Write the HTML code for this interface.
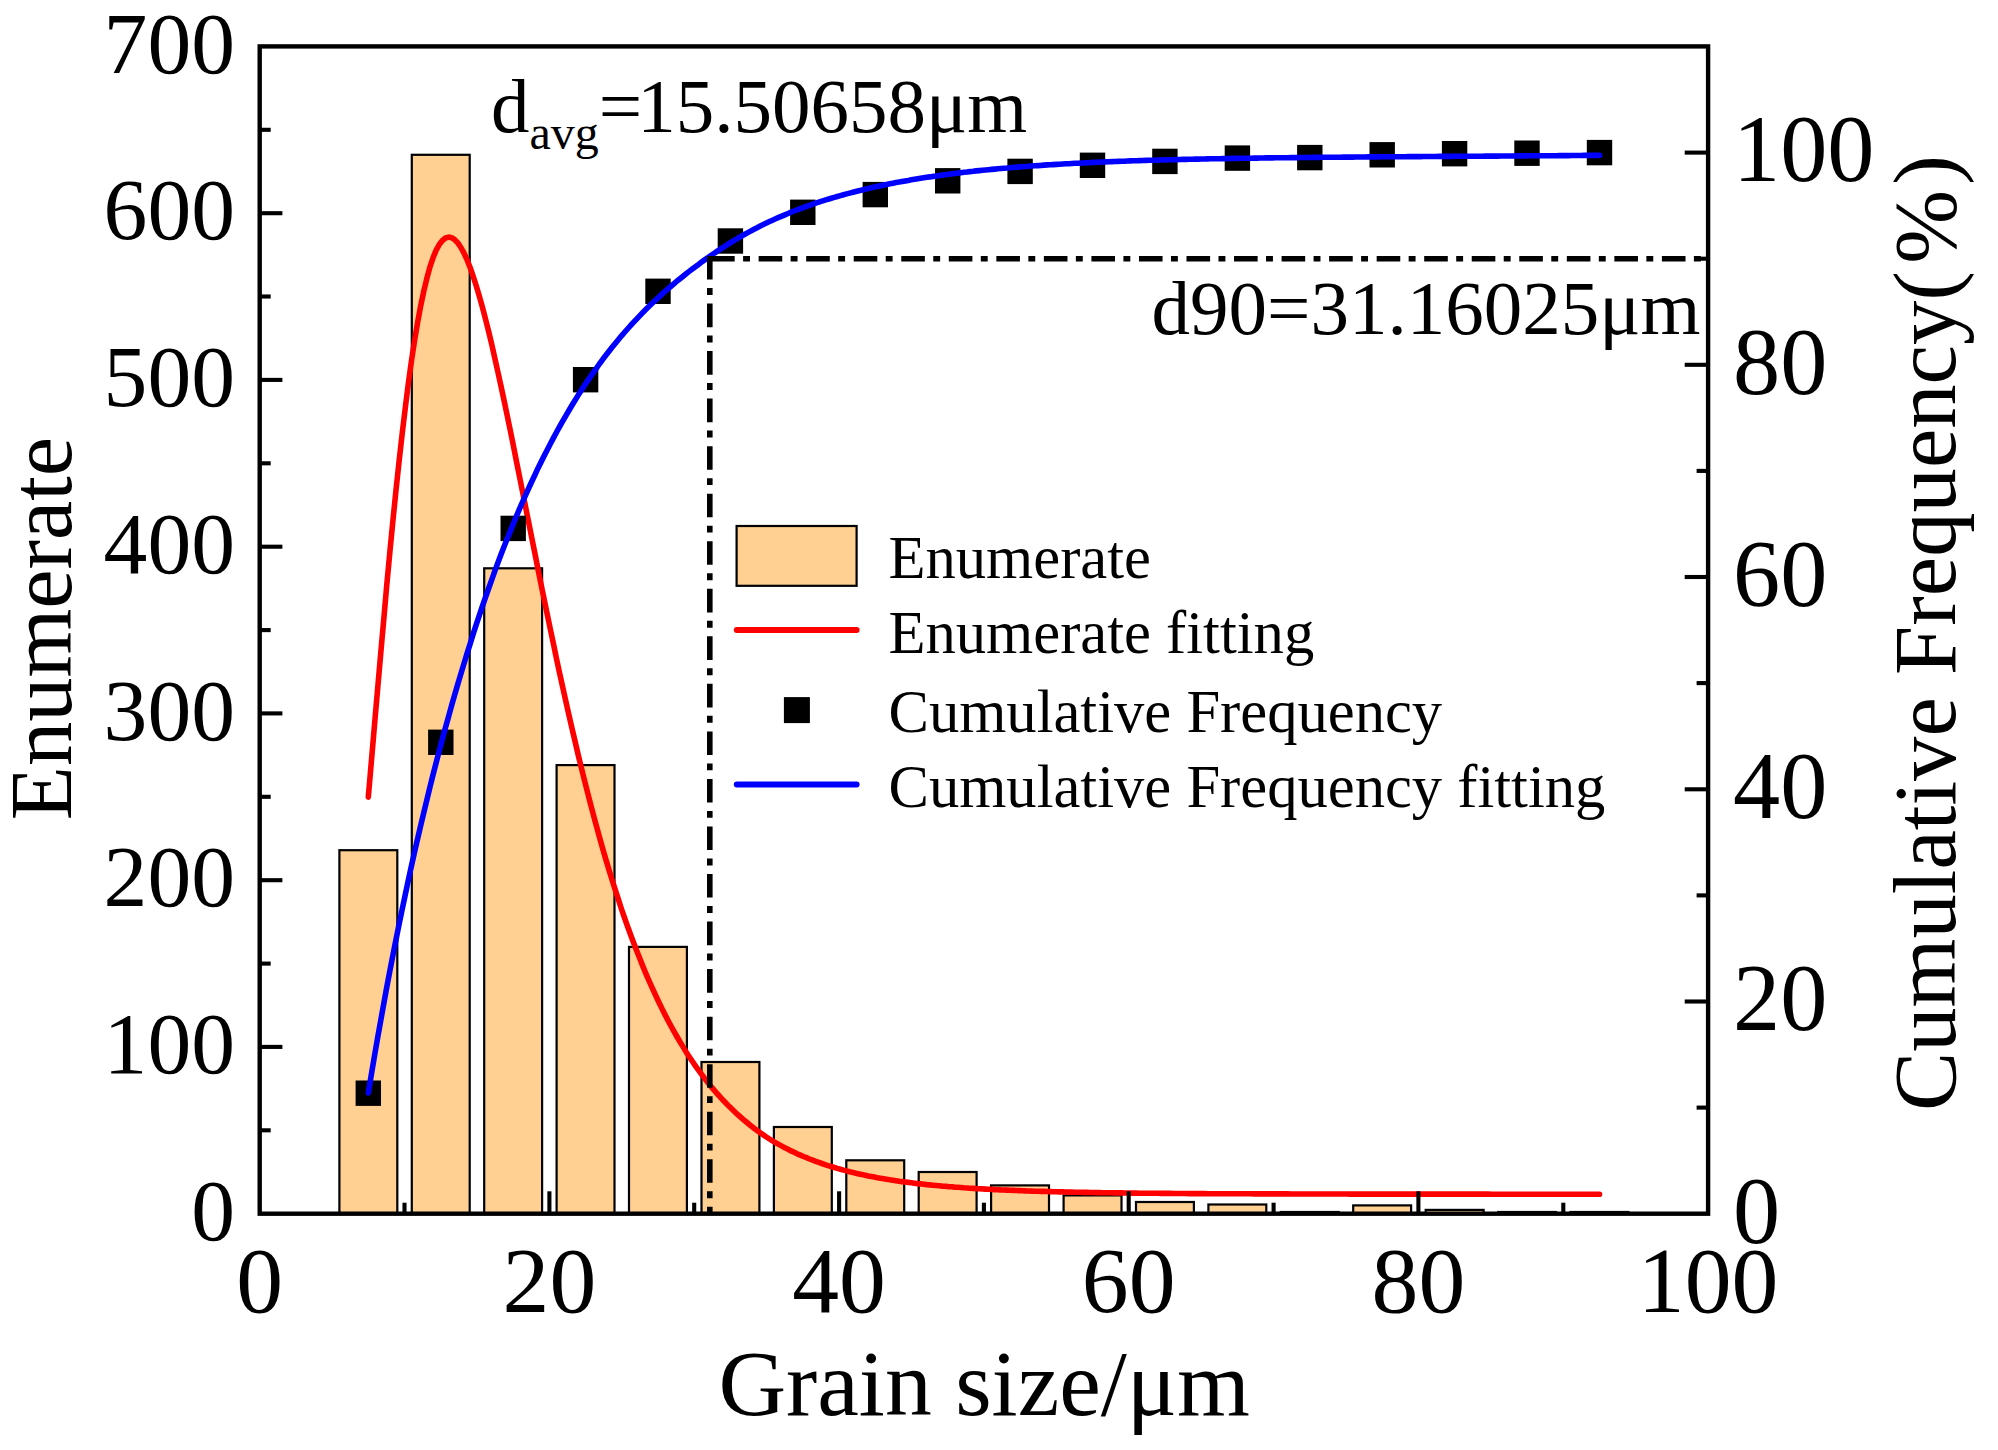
<!DOCTYPE html>
<html><head><meta charset="utf-8"><title>Grain size distribution</title>
<style>html,body{margin:0;padding:0;background:#fff}svg{display:block}</style></head>
<body>
<svg width="1998" height="1450" viewBox="0 0 1998 1450" font-family="'Liberation Serif', serif">
<rect width="1998" height="1450" fill="#fff"/>
<g fill="#FFD092" stroke="#000" stroke-width="2.2">
<rect x="339.4" y="850.2" width="57.9" height="363.5"/>
<rect x="411.8" y="154.8" width="57.9" height="1058.9"/>
<rect x="484.2" y="568.3" width="57.9" height="645.4"/>
<rect x="556.6" y="765.1" width="57.9" height="448.6"/>
<rect x="629.0" y="946.9" width="57.9" height="266.8"/>
<rect x="701.5" y="1062.0" width="57.9" height="151.7"/>
<rect x="773.9" y="1127.0" width="57.9" height="86.7"/>
<rect x="846.3" y="1160.3" width="57.9" height="53.4"/>
<rect x="918.7" y="1172.0" width="57.9" height="41.7"/>
<rect x="991.1" y="1185.4" width="57.9" height="28.3"/>
<rect x="1063.6" y="1195.4" width="57.9" height="18.3"/>
<rect x="1136.0" y="1202.0" width="57.9" height="11.7"/>
<rect x="1208.4" y="1204.5" width="57.9" height="9.2"/>
<rect x="1280.8" y="1212.0" width="57.9" height="1.7"/>
<rect x="1353.2" y="1205.4" width="57.9" height="8.3"/>
<rect x="1425.7" y="1209.9" width="57.9" height="3.8"/>
<rect x="1498.1" y="1212.0" width="57.9" height="1.7"/>
<rect x="1570.5" y="1212.0" width="57.9" height="1.7"/>
</g>
<path d="M368.3,797.1 L371.4,761.2 L374.5,725.1 L377.6,689.3 L380.7,653.7 L383.8,618.9 L386.8,584.8 L389.9,551.7 L393.0,519.8 L396.1,489.3 L399.2,460.3 L402.3,432.8 L405.4,407.0 L408.4,383.0 L411.5,360.7 L414.6,340.4 L417.7,321.9 L420.8,305.3 L423.9,290.6 L427.0,277.8 L430.0,266.8 L433.1,257.6 L436.2,250.2 L439.3,244.5 L442.4,240.5 L445.5,238.0 L448.6,237.1 L451.6,237.7 L454.7,239.7 L457.8,242.9 L460.9,247.5 L464.0,253.1 L467.1,259.9 L470.2,267.7 L473.2,276.4 L476.3,286.0 L479.4,296.5 L482.5,307.6 L485.6,319.4 L488.7,331.8 L491.8,344.7 L494.8,358.2 L497.9,372.0 L501.0,386.2 L504.1,400.7 L507.2,415.5 L510.3,430.5 L513.4,445.7 L516.4,461.1 L519.5,476.5 L522.6,492.0 L525.7,507.5 L528.8,523.0 L531.9,538.5 L535.0,553.9 L538.0,569.2 L541.1,584.5 L544.2,599.6 L547.3,614.6 L550.4,629.5 L553.5,644.2 L556.5,658.7 L559.6,673.1 L562.7,687.2 L565.8,701.1 L568.9,714.8 L572.0,728.3 L575.1,741.5 L578.1,754.5 L581.2,767.2 L584.3,779.7 L587.4,791.9 L590.5,803.9 L593.6,815.6 L596.7,827.0 L599.7,838.1 L602.8,849.0 L605.9,859.6 L609.0,869.9 L612.1,880.0 L615.2,889.7 L618.3,899.2 L621.3,908.5 L624.4,917.5 L627.5,926.2 L630.6,934.7 L633.7,943.0 L636.8,951.0 L639.9,958.8 L642.9,966.4 L646.0,973.8 L649.1,981.0 L652.2,987.9 L655.3,994.7 L658.4,1001.2 L661.5,1007.6 L664.5,1013.7 L667.6,1019.7 L670.7,1025.5 L673.8,1031.1 L676.9,1036.5 L680.0,1041.8 L683.1,1046.9 L686.1,1051.9 L689.2,1056.7 L692.3,1061.3 L695.4,1065.8 L698.5,1070.1 L701.6,1074.3 L704.7,1078.4 L707.7,1082.4 L710.8,1086.2 L713.9,1089.9 L717.0,1093.5 L720.1,1096.9 L723.2,1100.3 L726.3,1103.5 L729.3,1106.6 L732.4,1109.6 L735.5,1112.6 L738.6,1115.4 L741.7,1118.1 L744.8,1120.8 L747.9,1123.3 L750.9,1125.8 L754.0,1128.2 L757.1,1130.5 L760.2,1132.7 L763.3,1134.9 L766.4,1137.0 L769.5,1139.0 L772.5,1140.9 L775.6,1142.7 L778.7,1144.4 L781.8,1146.1 L784.9,1147.8 L788.0,1149.3 L791.1,1150.9 L794.1,1152.3 L797.2,1153.8 L800.3,1155.1 L803.4,1156.5 L806.5,1157.7 L809.6,1159.0 L812.7,1160.2 L815.7,1161.3 L818.8,1162.4 L821.9,1163.5 L825.0,1164.6 L828.1,1165.6 L831.2,1166.5 L834.3,1167.5 L837.3,1168.4 L840.4,1169.2 L843.5,1170.1 L846.6,1170.9 L849.7,1171.7 L852.8,1172.4 L855.8,1173.2 L858.9,1173.9 L862.0,1174.6 L865.1,1175.2 L868.2,1175.9 L871.3,1176.5 L874.4,1177.1 L877.4,1177.7 L880.5,1178.2 L883.6,1178.7 L886.7,1179.3 L889.8,1179.8 L892.9,1180.2 L896.0,1180.7 L899.0,1181.2 L902.1,1181.6 L905.2,1182.0 L908.3,1182.4 L911.4,1182.8 L914.5,1183.2 L917.6,1183.6 L920.6,1183.9 L923.7,1184.2 L926.8,1184.6 L929.9,1184.9 L933.0,1185.2 L936.1,1185.5 L939.2,1185.8 L942.2,1186.1 L945.3,1186.3 L948.4,1186.6 L951.5,1186.8 L954.6,1187.1 L957.7,1187.3 L960.8,1187.5 L963.8,1187.8 L966.9,1188.0 L970.0,1188.2 L973.1,1188.4 L976.2,1188.6 L979.3,1188.7 L982.4,1188.9 L985.4,1189.1 L988.5,1189.3 L991.6,1189.4 L994.7,1189.6 L997.8,1189.7 L1000.9,1189.9 L1004.0,1190.0 L1007.0,1190.1 L1010.1,1190.3 L1013.2,1190.4 L1016.3,1190.5 L1019.4,1190.6 L1022.5,1190.7 L1025.6,1190.9 L1028.6,1191.0 L1031.7,1191.1 L1034.8,1191.2 L1037.9,1191.3 L1041.0,1191.4 L1044.1,1191.4 L1047.2,1191.5 L1050.2,1191.6 L1053.3,1191.7 L1056.4,1191.8 L1059.5,1191.9 L1062.6,1191.9 L1065.7,1192.0 L1068.8,1192.1 L1071.8,1192.1 L1074.9,1192.2 L1078.0,1192.3 L1081.1,1192.3 L1084.2,1192.4 L1087.3,1192.4 L1090.4,1192.5 L1093.4,1192.5 L1096.5,1192.6 L1099.6,1192.6 L1102.7,1192.7 L1105.8,1192.7 L1108.9,1192.8 L1112.0,1192.8 L1115.0,1192.9 L1118.1,1192.9 L1121.2,1192.9 L1124.3,1193.0 L1127.4,1193.0 L1130.5,1193.1 L1133.5,1193.1 L1136.6,1193.1 L1139.7,1193.2 L1142.8,1193.2 L1145.9,1193.2 L1149.0,1193.3 L1152.1,1193.3 L1155.1,1193.3 L1158.2,1193.3 L1161.3,1193.4 L1164.4,1193.4 L1167.5,1193.4 L1170.6,1193.4 L1173.7,1193.5 L1176.7,1193.5 L1179.8,1193.5 L1182.9,1193.5 L1186.0,1193.5 L1189.1,1193.6 L1192.2,1193.6 L1195.3,1193.6 L1198.3,1193.6 L1201.4,1193.6 L1204.5,1193.6 L1207.6,1193.7 L1210.7,1193.7 L1213.8,1193.7 L1216.9,1193.7 L1219.9,1193.7 L1223.0,1193.7 L1226.1,1193.8 L1229.2,1193.8 L1232.3,1193.8 L1235.4,1193.8 L1238.5,1193.8 L1241.5,1193.8 L1244.6,1193.8 L1247.7,1193.8 L1250.8,1193.8 L1253.9,1193.9 L1257.0,1193.9 L1260.1,1193.9 L1263.1,1193.9 L1266.2,1193.9 L1269.3,1193.9 L1272.4,1193.9 L1275.5,1193.9 L1278.6,1193.9 L1281.7,1193.9 L1284.7,1193.9 L1287.8,1193.9 L1290.9,1194.0 L1294.0,1194.0 L1297.1,1194.0 L1300.2,1194.0 L1303.3,1194.0 L1306.3,1194.0 L1309.4,1194.0 L1312.5,1194.0 L1315.6,1194.0 L1318.7,1194.0 L1321.8,1194.0 L1324.9,1194.0 L1327.9,1194.0 L1331.0,1194.0 L1334.1,1194.0 L1337.2,1194.0 L1340.3,1194.0 L1343.4,1194.0 L1346.5,1194.0 L1349.5,1194.1 L1352.6,1194.1 L1355.7,1194.1 L1358.8,1194.1 L1361.9,1194.1 L1365.0,1194.1 L1368.1,1194.1 L1371.1,1194.1 L1374.2,1194.1 L1377.3,1194.1 L1380.4,1194.1 L1383.5,1194.1 L1386.6,1194.1 L1389.7,1194.1 L1392.7,1194.1 L1395.8,1194.1 L1398.9,1194.1 L1402.0,1194.1 L1405.1,1194.1 L1408.2,1194.1 L1411.3,1194.1 L1414.3,1194.1 L1417.4,1194.1 L1420.5,1194.1 L1423.6,1194.1 L1426.7,1194.1 L1429.8,1194.1 L1432.8,1194.1 L1435.9,1194.1 L1439.0,1194.1 L1442.1,1194.1 L1445.2,1194.1 L1448.3,1194.1 L1451.4,1194.1 L1454.4,1194.1 L1457.5,1194.1 L1460.6,1194.1 L1463.7,1194.1 L1466.8,1194.1 L1469.9,1194.1 L1473.0,1194.1 L1476.0,1194.1 L1479.1,1194.1 L1482.2,1194.1 L1485.3,1194.1 L1488.4,1194.1 L1491.5,1194.2 L1494.6,1194.2 L1497.6,1194.2 L1500.7,1194.2 L1503.8,1194.2 L1506.9,1194.2 L1510.0,1194.2 L1513.1,1194.2 L1516.2,1194.2 L1519.2,1194.2 L1522.3,1194.2 L1525.4,1194.2 L1528.5,1194.2 L1531.6,1194.2 L1534.7,1194.2 L1537.8,1194.2 L1540.8,1194.2 L1543.9,1194.2 L1547.0,1194.2 L1550.1,1194.2 L1553.2,1194.2 L1556.3,1194.2 L1559.4,1194.2 L1562.4,1194.2 L1565.5,1194.2 L1568.6,1194.2 L1571.7,1194.2 L1574.8,1194.2 L1577.9,1194.2 L1581.0,1194.2 L1584.0,1194.2 L1587.1,1194.2 L1590.2,1194.2 L1593.3,1194.2 L1596.4,1194.2 L1599.5,1194.2" fill="none" stroke="#FF0000" stroke-width="5.6" stroke-linecap="round" stroke-linejoin="round"/>
<g fill="#000">
<rect x="355.6" y="1080.5" width="25.4" height="25.4"/>
<rect x="428.1" y="729.6" width="25.4" height="25.4"/>
<rect x="500.5" y="515.7" width="25.4" height="25.4"/>
<rect x="572.9" y="367.0" width="25.4" height="25.4"/>
<rect x="645.3" y="278.6" width="25.4" height="25.4"/>
<rect x="717.7" y="228.3" width="25.4" height="25.4"/>
<rect x="790.1" y="199.6" width="25.4" height="25.4"/>
<rect x="862.6" y="181.9" width="25.4" height="25.4"/>
<rect x="935.0" y="168.1" width="25.4" height="25.4"/>
<rect x="1007.4" y="158.7" width="25.4" height="25.4"/>
<rect x="1079.8" y="152.6" width="25.4" height="25.4"/>
<rect x="1152.2" y="148.7" width="25.4" height="25.4"/>
<rect x="1224.7" y="145.4" width="25.4" height="25.4"/>
<rect x="1297.1" y="144.9" width="25.4" height="25.4"/>
<rect x="1369.5" y="142.1" width="25.4" height="25.4"/>
<rect x="1441.9" y="141.0" width="25.4" height="25.4"/>
<rect x="1514.3" y="140.5" width="25.4" height="25.4"/>
<rect x="1586.8" y="139.9" width="25.4" height="25.4"/>
</g>
<path d="M368.3,1092.9 L371.4,1074.2 L374.5,1055.9 L377.6,1038.1 L380.7,1020.7 L383.8,1003.6 L386.8,987.0 L389.9,970.7 L393.0,954.7 L396.1,939.1 L399.2,923.8 L402.3,908.8 L405.4,894.2 L408.4,879.8 L411.5,865.7 L414.6,851.9 L417.7,838.4 L420.8,825.1 L423.9,812.1 L427.0,799.3 L430.0,786.8 L433.1,774.5 L436.2,762.5 L439.3,750.6 L442.4,739.0 L445.5,727.6 L448.6,716.4 L451.6,705.5 L454.7,694.7 L457.8,684.1 L460.9,673.7 L464.0,663.5 L467.1,653.4 L470.2,643.6 L473.2,633.9 L476.3,624.4 L479.4,615.1 L482.5,606.0 L485.6,597.0 L488.7,588.2 L491.8,579.6 L494.8,571.1 L497.9,562.8 L501.0,554.6 L504.1,546.6 L507.2,538.8 L510.3,531.1 L513.4,523.6 L516.4,516.2 L519.5,508.9 L522.6,501.8 L525.7,494.8 L528.8,488.0 L531.9,481.3 L535.0,474.7 L538.0,468.2 L541.1,461.9 L544.2,455.7 L547.3,449.7 L550.4,443.7 L553.5,437.9 L556.5,432.2 L559.6,426.6 L562.7,421.1 L565.8,415.8 L568.9,410.5 L572.0,405.3 L575.1,400.3 L578.1,395.4 L581.2,390.5 L584.3,385.8 L587.4,381.1 L590.5,376.6 L593.6,372.1 L596.7,367.8 L599.7,363.5 L602.8,359.3 L605.9,355.3 L609.0,351.3 L612.1,347.3 L615.2,343.5 L618.3,339.8 L621.3,336.1 L624.4,332.5 L627.5,329.0 L630.6,325.5 L633.7,322.2 L636.8,318.9 L639.9,315.6 L642.9,312.4 L646.0,309.3 L649.1,306.3 L652.2,303.3 L655.3,300.3 L658.4,297.5 L661.5,294.6 L664.5,291.8 L667.6,289.1 L670.7,286.5 L673.8,283.8 L676.9,281.2 L680.0,278.7 L683.1,276.2 L686.1,273.8 L689.2,271.4 L692.3,269.0 L695.4,266.7 L698.5,264.4 L701.6,262.1 L704.7,259.9 L707.7,257.7 L710.8,255.6 L713.9,253.5 L717.0,251.4 L720.1,249.3 L723.2,247.3 L726.3,245.4 L729.3,243.4 L732.4,241.5 L735.5,239.7 L738.6,237.8 L741.7,236.0 L744.8,234.3 L747.9,232.6 L750.9,230.9 L754.0,229.3 L757.1,227.7 L760.2,226.1 L763.3,224.6 L766.4,223.1 L769.5,221.6 L772.5,220.2 L775.6,218.8 L778.7,217.4 L781.8,216.1 L784.9,214.8 L788.0,213.5 L791.1,212.2 L794.1,211.0 L797.2,209.8 L800.3,208.6 L803.4,207.5 L806.5,206.4 L809.6,205.3 L812.7,204.2 L815.7,203.2 L818.8,202.2 L821.9,201.2 L825.0,200.2 L828.1,199.2 L831.2,198.3 L834.3,197.4 L837.3,196.5 L840.4,195.6 L843.5,194.7 L846.6,193.9 L849.7,193.1 L852.8,192.3 L855.8,191.5 L858.9,190.7 L862.0,190.0 L865.1,189.2 L868.2,188.5 L871.3,187.8 L874.4,187.1 L877.4,186.4 L880.5,185.7 L883.6,185.1 L886.7,184.5 L889.8,183.8 L892.9,183.2 L896.0,182.6 L899.0,182.1 L902.1,181.5 L905.2,180.9 L908.3,180.4 L911.4,179.8 L914.5,179.3 L917.6,178.8 L920.6,178.3 L923.7,177.8 L926.8,177.3 L929.9,176.9 L933.0,176.4 L936.1,176.0 L939.2,175.5 L942.2,175.1 L945.3,174.7 L948.4,174.3 L951.5,173.9 L954.6,173.5 L957.7,173.1 L960.8,172.7 L963.8,172.3 L966.9,172.0 L970.0,171.6 L973.1,171.3 L976.2,170.9 L979.3,170.6 L982.4,170.3 L985.4,170.0 L988.5,169.7 L991.6,169.4 L994.7,169.1 L997.8,168.8 L1000.9,168.5 L1004.0,168.2 L1007.0,168.0 L1010.1,167.7 L1013.2,167.4 L1016.3,167.2 L1019.4,166.9 L1022.5,166.7 L1025.6,166.5 L1028.6,166.2 L1031.7,166.0 L1034.8,165.8 L1037.9,165.6 L1041.0,165.4 L1044.1,165.1 L1047.2,164.9 L1050.2,164.8 L1053.3,164.6 L1056.4,164.4 L1059.5,164.2 L1062.6,164.0 L1065.7,163.8 L1068.8,163.7 L1071.8,163.5 L1074.9,163.3 L1078.0,163.2 L1081.1,163.0 L1084.2,162.9 L1087.3,162.7 L1090.4,162.6 L1093.4,162.4 L1096.5,162.3 L1099.6,162.1 L1102.7,162.0 L1105.8,161.9 L1108.9,161.8 L1112.0,161.6 L1115.0,161.5 L1118.1,161.4 L1121.2,161.3 L1124.3,161.2 L1127.4,161.0 L1130.5,160.9 L1133.5,160.8 L1136.6,160.7 L1139.7,160.6 L1142.8,160.5 L1145.9,160.4 L1149.0,160.3 L1152.1,160.2 L1155.1,160.2 L1158.2,160.1 L1161.3,160.0 L1164.4,159.9 L1167.5,159.8 L1170.6,159.7 L1173.7,159.7 L1176.7,159.6 L1179.8,159.5 L1182.9,159.4 L1186.0,159.4 L1189.1,159.3 L1192.2,159.2 L1195.3,159.1 L1198.3,159.1 L1201.4,159.0 L1204.5,159.0 L1207.6,158.9 L1210.7,158.8 L1213.8,158.8 L1216.9,158.7 L1219.9,158.7 L1223.0,158.6 L1226.1,158.6 L1229.2,158.5 L1232.3,158.4 L1235.4,158.4 L1238.5,158.3 L1241.5,158.3 L1244.6,158.3 L1247.7,158.2 L1250.8,158.2 L1253.9,158.1 L1257.0,158.1 L1260.1,158.0 L1263.1,158.0 L1266.2,157.9 L1269.3,157.9 L1272.4,157.9 L1275.5,157.8 L1278.6,157.8 L1281.7,157.8 L1284.7,157.7 L1287.8,157.7 L1290.9,157.6 L1294.0,157.6 L1297.1,157.6 L1300.2,157.5 L1303.3,157.5 L1306.3,157.5 L1309.4,157.5 L1312.5,157.4 L1315.6,157.4 L1318.7,157.4 L1321.8,157.3 L1324.9,157.3 L1327.9,157.3 L1331.0,157.2 L1334.1,157.2 L1337.2,157.2 L1340.3,157.2 L1343.4,157.1 L1346.5,157.1 L1349.5,157.1 L1352.6,157.1 L1355.7,157.0 L1358.8,157.0 L1361.9,157.0 L1365.0,157.0 L1368.1,156.9 L1371.1,156.9 L1374.2,156.9 L1377.3,156.9 L1380.4,156.8 L1383.5,156.8 L1386.6,156.8 L1389.7,156.8 L1392.7,156.8 L1395.8,156.7 L1398.9,156.7 L1402.0,156.7 L1405.1,156.7 L1408.2,156.6 L1411.3,156.6 L1414.3,156.6 L1417.4,156.6 L1420.5,156.6 L1423.6,156.5 L1426.7,156.5 L1429.8,156.5 L1432.8,156.5 L1435.9,156.5 L1439.0,156.4 L1442.1,156.4 L1445.2,156.4 L1448.3,156.4 L1451.4,156.4 L1454.4,156.3 L1457.5,156.3 L1460.6,156.3 L1463.7,156.3 L1466.8,156.3 L1469.9,156.2 L1473.0,156.2 L1476.0,156.2 L1479.1,156.2 L1482.2,156.2 L1485.3,156.1 L1488.4,156.1 L1491.5,156.1 L1494.6,156.1 L1497.6,156.1 L1500.7,156.0 L1503.8,156.0 L1506.9,156.0 L1510.0,156.0 L1513.1,156.0 L1516.2,155.9 L1519.2,155.9 L1522.3,155.9 L1525.4,155.9 L1528.5,155.8 L1531.6,155.8 L1534.7,155.8 L1537.8,155.8 L1540.8,155.8 L1543.9,155.7 L1547.0,155.7 L1550.1,155.7 L1553.2,155.7 L1556.3,155.7 L1559.4,155.6 L1562.4,155.6 L1565.5,155.6 L1568.6,155.6 L1571.7,155.5 L1574.8,155.5 L1577.9,155.5 L1581.0,155.5 L1584.0,155.4 L1587.1,155.4 L1590.2,155.4 L1593.3,155.4 L1596.4,155.4 L1599.5,155.3" fill="none" stroke="#0000FF" stroke-width="5.6" stroke-linecap="round" stroke-linejoin="round"/>
<path d="M711.1,258.7 H1708.1" fill="none" stroke="#000" stroke-width="5.4" stroke-dasharray="23.6 8.4 6.9 8.64"/>
<path d="M709.8,256 V1213.7" fill="none" stroke="#000" stroke-width="5.6" stroke-dasharray="23.6 8.4 6.9 8.64"/>
<rect x="259.7" y="46.4" width="1448.4" height="1167.3" fill="none" stroke="#000" stroke-width="4.4"/>
<g stroke="#000" stroke-width="4.1">
<line x1="259.7" y1="1130.3" x2="270.7" y2="1130.3"/>
<line x1="259.7" y1="1046.9" x2="282.4" y2="1046.9"/>
<line x1="259.7" y1="963.6" x2="270.7" y2="963.6"/>
<line x1="259.7" y1="880.2" x2="282.4" y2="880.2"/>
<line x1="259.7" y1="796.8" x2="270.7" y2="796.8"/>
<line x1="259.7" y1="713.4" x2="282.4" y2="713.4"/>
<line x1="259.7" y1="630.1" x2="270.7" y2="630.1"/>
<line x1="259.7" y1="546.7" x2="282.4" y2="546.7"/>
<line x1="259.7" y1="463.3" x2="270.7" y2="463.3"/>
<line x1="259.7" y1="379.9" x2="282.4" y2="379.9"/>
<line x1="259.7" y1="296.5" x2="270.7" y2="296.5"/>
<line x1="259.7" y1="213.2" x2="282.4" y2="213.2"/>
<line x1="259.7" y1="129.8" x2="270.7" y2="129.8"/>
<line x1="1708.1" y1="1107.6" x2="1696.6" y2="1107.6"/>
<line x1="1708.1" y1="1001.5" x2="1684.6999999999998" y2="1001.5"/>
<line x1="1708.1" y1="895.4" x2="1696.6" y2="895.4"/>
<line x1="1708.1" y1="789.3" x2="1684.6999999999998" y2="789.3"/>
<line x1="1708.1" y1="683.1" x2="1696.6" y2="683.1"/>
<line x1="1708.1" y1="577.0" x2="1684.6999999999998" y2="577.0"/>
<line x1="1708.1" y1="470.9" x2="1696.6" y2="470.9"/>
<line x1="1708.1" y1="364.8" x2="1684.6999999999998" y2="364.8"/>
<line x1="1708.1" y1="258.7" x2="1696.6" y2="258.7"/>
<line x1="1708.1" y1="152.6" x2="1684.6999999999998" y2="152.6"/>
<line x1="404.5" y1="1213.7" x2="404.5" y2="1202.7"/>
<line x1="549.4" y1="1213.7" x2="549.4" y2="1191.3"/>
<line x1="694.2" y1="1213.7" x2="694.2" y2="1202.7"/>
<line x1="839.1" y1="1213.7" x2="839.1" y2="1191.3"/>
<line x1="983.9" y1="1213.7" x2="983.9" y2="1202.7"/>
<line x1="1128.7" y1="1213.7" x2="1128.7" y2="1191.3"/>
<line x1="1273.6" y1="1213.7" x2="1273.6" y2="1202.7"/>
<line x1="1418.4" y1="1213.7" x2="1418.4" y2="1191.3"/>
<line x1="1563.3" y1="1213.7" x2="1563.3" y2="1202.7"/>
</g>
<g font-size="87.6" text-anchor="end">
<text x="235" y="1239.8">0</text>
<text x="235" y="1073.0">100</text>
<text x="235" y="906.3">200</text>
<text x="235" y="739.5">300</text>
<text x="235" y="572.8">400</text>
<text x="235" y="406.0">500</text>
<text x="235" y="239.3">600</text>
<text x="235" y="72.5">700</text>
</g>
<g font-size="94.3" text-anchor="start">
<text x="1733" y="1242.5">0</text>
<text x="1733" y="1030.3">20</text>
<text x="1733" y="818.1">40</text>
<text x="1733" y="605.8">60</text>
<text x="1733" y="393.6">80</text>
<text x="1733" y="181.4">100</text>
</g>
<g font-size="93.7" text-anchor="middle">
<text x="259.7" y="1311.8">0</text>
<text x="549.4" y="1311.8">20</text>
<text x="839.1" y="1311.8">40</text>
<text x="1128.7" y="1311.8">60</text>
<text x="1418.4" y="1311.8">80</text>
<text x="1708.1" y="1311.8">100</text>
</g>
<text x="984.2" y="1414.7" font-size="93.7" text-anchor="middle">Grain size/μm</text>
<text transform="translate(70.8,628.5) rotate(-90)" font-size="88.5" text-anchor="middle">Enumerate</text>
<text transform="translate(1955,1111) rotate(-90)" font-size="88.7">Cumulative Frequency<tspan dx="0">(</tspan><tspan dx="7.5">%</tspan><tspan dx="5">)</tspan></text>
<text x="491" y="132.1" font-size="77">d<tspan font-size="48" dy="16.6">avg</tspan><tspan dy="-16.6">=</tspan><tspan dx="-5">15.50658μm</tspan></text>
<text x="1151.5" y="333.8" font-size="77">d90=31.16025μm</text>
<rect x="736.6" y="526" width="120" height="59.8" fill="#FFD092" stroke="#000" stroke-width="2.2"/>
<line x1="736.8" y1="630.1" x2="856.6" y2="630.1" stroke="#FF0000" stroke-width="6" stroke-linecap="round"/>
<rect x="783.9" y="697.1" width="26" height="26" fill="#000"/>
<line x1="736.8" y1="784.5" x2="856.6" y2="784.5" stroke="#0000FF" stroke-width="6" stroke-linecap="round"/>
<g font-size="60.6">
<text x="888.5" y="577.6">Enumerate</text>
<text x="888.5" y="652.7">Enumerate fitting</text>
<text x="888.5" y="731.5">Cumulative Frequency</text>
<text x="888.5" y="806.6">Cumulative Frequency fitting</text>
</g>
</svg>
</body></html>
